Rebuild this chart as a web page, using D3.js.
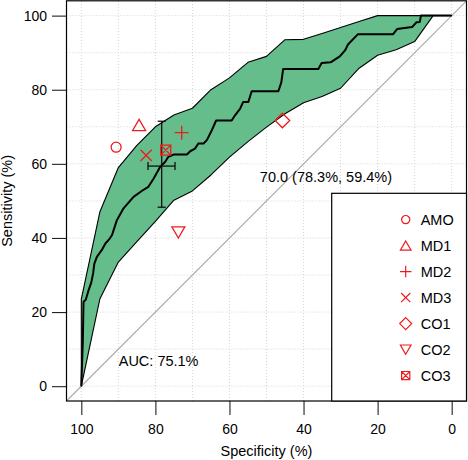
<!DOCTYPE html>
<html><head><meta charset="utf-8">
<script src="https://cdn.jsdelivr.net/npm/d3@7"></script>
<style>
html,body{margin:0;padding:0;background:#fff;}
svg{display:block;font-family:"Liberation Sans",Arial,Helvetica,sans-serif;}
</style>
</head><body>
<svg id="c" width="468" height="460"></svg>
<script>
// ROC curve (specificity %, sensitivity %)
const rocSpec = [100,99.6,99.4,98.8,98.0,97.3,96.8,96.5,95.8,94.5,93.5,92.5,91.7,90.4,88.6,85.9,83.5,81.9,80.5,78.7,77.4,76.5,75.1,71.5,70.6,69.3,68.4,67.0,66.1,64.8,63.6,59.4,58.5,57.1,56.3,54.9,54.0,46.8,46.0,45.5,36.0,35.1,32.7,30.2,28.8,28.0,25.3,15.8,14.7,10.7,9.5,8.6,8.3,0];
const rocSens = [0,12,22.8,23.3,26,28,30.5,33,34.9,36.7,38.5,39.6,40.8,44.8,48,51.1,52.8,53.8,56,59.2,60.5,61.9,62.5,62.5,63.4,64.1,65.5,65.5,66.4,69,71.7,71.7,73.1,74.9,76.7,76.7,79.6,79.6,82,85.6,85.6,87.2,87.4,89,90.6,92.2,95,95,96.4,96.9,98.2,98.3,100,100];
// Confidence band of sensitivity
const ciSpec  = [100,95,90,85,80,75,70,65,60,55,50,45,40,35,30,25,20,15,10,5,0];
const ciLower = [0,23.5,33.5,39,44.5,50.2,52.7,57,61.8,66,69.9,73.5,76.5,78.2,80.4,85.8,89.3,90.8,93,100,100];
const ciUpper = [23.5,47,59,65,70,73.2,75,80,83.2,87.4,89,93.5,93.6,95.2,96.8,98.4,100,100,100,100,100];
// Comparison tests
const testNames  = ["AMO","MD1","MD2","MD3","CO1","CO2","CO3"];
const testSpec   = [90.6,84.4,72.9,82.5,45.7,73.8,77.2];
const testSens   = [64.5,70.5,68.4,62.3,71.7,41.5,63.7];
const testShapes = ["circle","triUp","plus","times","diamond","triDown","boxTimes"];
// Best threshold with CI
const thrSpec = [78.3], thrSens = [59.4];
const thrSpecCI = [82.0,74.7], thrSensCI = [48.3,71.5];
const thrLabel = "70.0 (78.3%, 59.4%)";
const aucLabel = "AUC: 75.1%";
const specTicks = [100,80,60,40,20,0];
const sensTicks = [0,20,40,60,80,100];
const gridVals  = [0,10,20,30,40,50,60,70,80,90,100];

const svg = d3.select("#c");
const x = d3.scaleLinear().domain([104,-4]).range([66.5,466.5]);
const y = d3.scaleLinear().domain([-4,104]).range([401,0.8]);
const RED = "#ec1c1c";

// grid
const g = svg.append("g");
g.selectAll("line.v").data(gridVals).join("line")
  .attr("x1",d=>x(d)).attr("x2",d=>x(d)).attr("y1",y(-4)).attr("y2",y(104))
  .attr("stroke","#d4d4d4").attr("stroke-width",1).attr("stroke-dasharray","1,2");
g.selectAll("line.h").data(gridVals).join("line")
  .attr("y1",d=>y(d)).attr("y2",d=>y(d)).attr("x1",x(104)).attr("x2",x(-4))
  .attr("stroke","#d4d4d4").attr("stroke-width",1).attr("stroke-dasharray","1,2");

// diagonal
svg.append("line").attr("x1",x(104)).attr("y1",y(-4)).attr("x2",x(-4)).attr("y2",y(104))
  .attr("stroke","#aaaaaa").attr("stroke-width",1.1);

// CI band
const band = ciSpec.map((s,i)=>({s, lo:ciLower[i], hi:ciUpper[i]}));
svg.append("path").datum(band)
  .attr("d", d3.area().x(d=>x(d.s)).y0(d=>y(d.lo)).y1(d=>y(d.hi)))
  .attr("fill","#64bd8a").attr("stroke","#000").attr("stroke-width",1.1).attr("stroke-linejoin","round");

// ROC line
const roc = rocSpec.map((s,i)=>({s, v:rocSens[i]}));
svg.append("path").datum(roc)
  .attr("d", d3.line().x(d=>x(d.s)).y(d=>y(d.v)))
  .attr("fill","none").attr("stroke","#000").attr("stroke-width",2).attr("stroke-linejoin","round");

// threshold CI cross
const ce = svg.append("g").attr("stroke","#111").attr("stroke-width",1.3);
ce.append("line").attr("x1",x(thrSpec[0])).attr("x2",x(thrSpec[0])).attr("y1",y(thrSensCI[0])).attr("y2",y(thrSensCI[1]));
thrSensCI.forEach(v=>ce.append("line").attr("x1",x(thrSpec[0])-4).attr("x2",x(thrSpec[0])+4).attr("y1",y(v)).attr("y2",y(v)));
ce.append("line").attr("y1",y(thrSens[0])).attr("y2",y(thrSens[0])).attr("x1",x(thrSpecCI[0])).attr("x2",x(thrSpecCI[1]));
thrSpecCI.forEach(v=>ce.append("line").attr("y1",y(thrSens[0])-4).attr("y2",y(thrSens[0])+4).attr("x1",x(v)).attr("x2",x(v)));

// marker paths
function shape(type, k){
  const p = d3.path();
  if(type==="circle"){ const r=5*k; p.moveTo(r,0); p.arc(0,0,r,0,2*Math.PI); }
  else if(type==="triUp"){ const w=6.5*k,h=5.6*k; p.moveTo(0,-h); p.lineTo(w,h); p.lineTo(-w,h); p.closePath(); }
  else if(type==="triDown"){ const w=6.5*k,h=5.6*k; p.moveTo(0,h); p.lineTo(w,-h); p.lineTo(-w,-h); p.closePath(); }
  else if(type==="plus"){ const r=7*k; p.moveTo(-r,0); p.lineTo(r,0); p.moveTo(0,-r); p.lineTo(0,r); }
  else if(type==="times"){ const r=5.6*k; p.moveTo(-r,-r); p.lineTo(r,r); p.moveTo(-r,r); p.lineTo(r,-r); }
  else if(type==="diamond"){ const r=7.3*k; p.moveTo(0,-r); p.lineTo(r,0); p.lineTo(0,r); p.lineTo(-r,0); p.closePath(); }
  else if(type==="boxTimes"){ const r=5*k; p.rect(-r,-r,2*r,2*r); p.moveTo(-r,-r); p.lineTo(r,r); p.moveTo(-r,r); p.lineTo(r,-r); }
  return p.toString();
}
svg.append("g").selectAll("path").data(testNames).join("path")
  .attr("transform",(d,i)=>`translate(${x(testSpec[i])},${y(testSens[i])})`)
  .attr("d",(d,i)=>shape(testShapes[i],1))
  .attr("fill","none").attr("stroke",RED).attr("stroke-width",1.3);

// texts
svg.append("text").attr("x",x(51.8)).attr("y",y(55.2)).attr("font-size",14.5).attr("fill","#000").text(thrLabel);
svg.append("text").attr("x",x(89.9)).attr("y",y(5.5)).attr("font-size",14.5).attr("fill","#000").text(aucLabel);

// axes
const ax = svg.append("g").attr("transform",`translate(${x(104)},0)`)
  .call(d3.axisLeft(y).tickValues(sensTicks).tickSize(14.5).tickPadding(5).tickFormat(d3.format("d")));
const bx = svg.append("g").attr("transform",`translate(0,${y(-4)})`)
  .call(d3.axisBottom(x).tickValues(specTicks).tickSize(14).tickPadding(9).tickFormat(d3.format("d")));
[ax,bx].forEach(a=>{
  a.select(".domain").remove();
  a.selectAll(".tick line").attr("stroke","#222").attr("stroke-width",1.1);
  a.selectAll("text").attr("font-size",14).attr("fill","#000").attr("font-family","'Liberation Sans',Arial,sans-serif");
});

// box
svg.append("rect").attr("x",x(104)).attr("y",y(104)).attr("width",x(-4)-x(104)).attr("height",y(-4)-y(104))
  .attr("fill","none").attr("stroke","#000").attr("stroke-width",1.2);

// axis titles
svg.append("text").attr("x",(x(104)+x(-4))/2).attr("y",455.5).attr("text-anchor","middle").attr("font-size",14.5).text("Specificity (%)");
svg.append("text").attr("transform",`translate(12,${(y(104)+y(-4))/2}) rotate(-90)`).attr("text-anchor","middle").attr("font-size",14.5).text("Sensitivity (%)");

// legend
const lg = svg.append("g");
lg.append("rect").attr("x",331.7).attr("y",193.3).attr("width",x(-4)-331.7).attr("height",y(-4)-193.3)
  .attr("fill","#fff").attr("stroke","#000").attr("stroke-width",1.2);
const items = lg.selectAll("g.it").data(testNames).join("g")
  .attr("transform",(d,i)=>`translate(405.7,${219.6+i*26})`);
items.append("path").attr("d",(d,i)=>shape(testShapes[i],0.82))
  .attr("fill","none").attr("stroke",RED).attr("stroke-width",1.2);
items.append("text").attr("x",15).attr("y",5.2).attr("font-size",14.5).text(d=>d);
</script>
</body></html>
